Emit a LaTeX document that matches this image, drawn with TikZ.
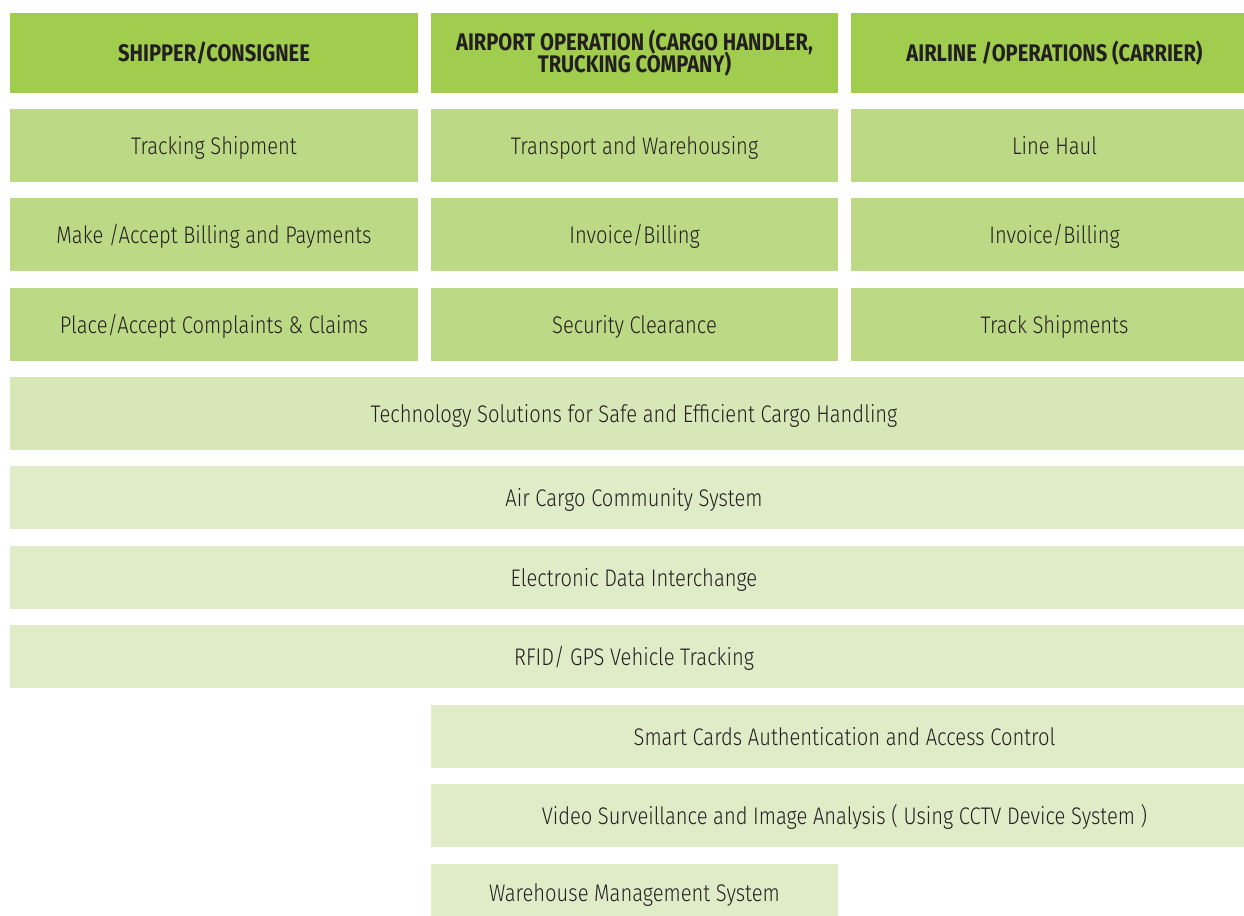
\documentclass[tikz,border=0pt]{standalone}
\usepackage{fontspec}
\setmainfont{Fira Sans}[UprightFont={* Light}, BoldFont={* Bold}, FakeStretch=0.84]
\usepackage{tikz}
\usetikzlibrary{positioning}

\definecolor{headgreen}{HTML}{A1CD4E}
\definecolor{rowgreen}{HTML}{BCD985}
\definecolor{techgreen}{HTML}{D7E7B7}
\definecolor{palegreen}{HTML}{E0EBC8}
\definecolor{inkgrey}{HTML}{231F20}

\tikzset{
    cell/.style={rectangle, inner sep=0pt, text=inkgrey, align=center, font=\fontsize{12}{11.5}\selectfont},
    oneline/.style={text height=10.5pt, text depth=2pt},
    headcell/.style={cell, fill=headgreen, minimum height=40pt, font=\fontsize{12}{11.5}\selectfont\bfseries},
    taskcell/.style={cell, oneline, fill=rowgreen, minimum height=36.5pt},
    techcell/.style={cell, oneline, fill=techgreen, minimum height=36.5pt},
    sysrow/.style={cell, oneline, fill=palegreen, minimum height=31.5pt}
}

\begin{document}
\begin{tikzpicture}[x=0.5pt, y=-0.5pt]
            \useasboundingbox (0, 0) rectangle (1244, 916);

            \node[headcell, oneline, minimum width=204pt] (shipper) at (214, 53) {SHIPPER/CONSIGNEE};
            \node[headcell, minimum width=203.5pt] (airport) at (634.5, 53) {AIRPORT OPERATION (CARGO HANDLER,\\[-2.5pt]TRUCKING COMPANY)};
            \node[headcell, oneline, minimum width=196.5pt] (airline) at (1047.5, 53) {\hspace*{7pt}AIRLINE /OPERATIONS (CARRIER)};

            \node[taskcell, minimum width=204pt] (track) at (214, 145.5) {Tracking Shipment};
            \node[taskcell, minimum width=203.5pt] (transport) at (634.5, 145.5) {Transport and Warehousing};
            \node[taskcell, minimum width=196.5pt] (linehaul) at (1047.5, 145.5) {\hspace*{7pt}Line Haul};

            \node[taskcell, minimum width=204pt] (billing) at (214, 234.5) {Make /Accept Billing and Payments};
            \node[taskcell, minimum width=203.5pt] (invoice1) at (634.5, 234.5) {Invoice/Billing};
            \node[taskcell, minimum width=196.5pt] (invoice2) at (1047.5, 234.5) {\hspace*{7pt}Invoice/Billing};

            \node[taskcell, minimum width=204pt] (claims) at (214, 324.5) {Place/Accept Complaints \& Claims};
            \node[taskcell, minimum width=203.5pt] (security) at (634.5, 324.5) {Security Clearance};
            \node[taskcell, minimum width=196.5pt] (trackship) at (1047.5, 324.5) {\hspace*{7pt}Track Shipments};

            \node[techcell, minimum width=617pt] (tech) at (627, 413.5) {\hspace*{7pt}Technology Solutions for Safe and Efficient Cargo Handling};

            \node[sysrow, minimum width=617pt] (acs) at (627, 497.5) {\hspace*{7pt}Air Cargo Community System};
            \node[sysrow, minimum width=617pt] (edi) at (627, 577.5) {\hspace*{7pt}Electronic Data Interchange};
            \node[sysrow, minimum width=617pt] (rfid) at (627, 656.5) {\hspace*{7pt}RFID/ GPS Vehicle Tracking};
            \node[sysrow, minimum width=406.5pt] (smart) at (837.5, 736.5) {\hspace*{7pt}Smart Cards Authentication and Access Control};
            \node[sysrow, minimum width=406.5pt] (video) at (837.5, 815.5) {\hspace*{7pt}Video Surveillance and Image Analysis ( Using CCTV Device System )};
            \node[sysrow, minimum width=203.5pt, minimum height=29pt] (wms) at (634.5, 893) {Warehouse Management System};
        \end{tikzpicture}
\end{document}
